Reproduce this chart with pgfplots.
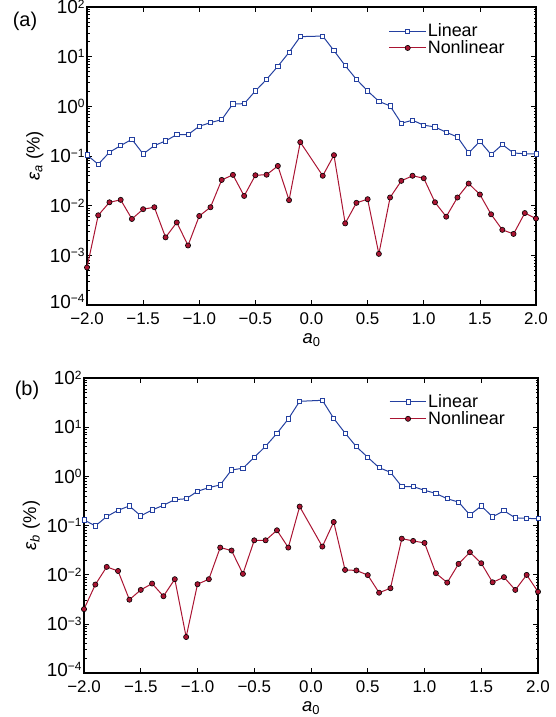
\documentclass[border=0pt]{standalone}
\usepackage{fontspec}
\setmainfont{Liberation Sans}
\usepackage{pgfplots}
\pgfplotsset{compat=1.18}
\definecolor{linblue}{RGB}{36,64,160}
\definecolor{nlred}{RGB}{170,20,50}
\newcommand{\ex}[1]{10\raisebox{5.5bp}{\fontsize{12}{12}\selectfont #1}}
\tikzset{
  lin/.style={linblue, line width=1bp, mark=square*, mark size=2.1bp, mark options={fill=white, draw=linblue, line width=0.8bp}},
  nl/.style={nlred, line width=1bp, mark=*, mark size=2.6bp, mark options={fill=nlred, draw=black, line width=0.6bp}},
}
\pgfplotsset{
  every axis/.append style={
  scale only axis,
  xmin=-2, xmax=2, ymin=1e-4, ymax=1e2,
  xtick={-2,-1.5,-1,-0.5,0,0.5,1,1.5,2},
  xticklabels={−2.0,−1.5,−1.0,−0.5,0.0,0.5,1.0,1.5,2.0},
  ytick={1e-4,1e-3,1e-2,1e-1,1e0,1e1,1e2},
  yticklabels={\raisebox{3.5bp}[\height][\depth]{\ex{−4}},\ex{−3},\ex{−2},\ex{−1},\ex{0},\ex{1},\ex{2}},
  tick align=inside, major tick length=5bp, minor tick length=2.5bp,
  xtick pos=both, ytick pos=both,
  axis line style={line width=1.4bp},
  tick style={black, line width=0.7bp},
  xticklabel style={font=\fontsize{17}{19}\selectfont, yshift=-4bp},
  yticklabel style={font=\fontsize{19}{21}\selectfont, xshift=1bp},
  label style={font=\fontsize{18.5}{20}\selectfont},
  xlabel style={at={(axis description cs:0.5,0)}, anchor=center, yshift=-35bp},
  ylabel style={at={(axis description cs:-0.116,0.5)}, anchor=center},
  legend style={draw=none, fill=none, at={(rel axis cs:0.665,0.955)}, anchor=north west,
    font=\fontsize{18}{20}\selectfont, row sep=0bp, nodes={inner sep=1.2bp}},
  legend cell align=left,
  legend image code/.code={\draw[mark repeat=2,mark phase=2] plot coordinates {(0cm,0cm)(0.65cm,0cm)(1.3cm,0cm)};},
  }
}
\begin{document}
\begin{tikzpicture}[x=1bp,y=1bp]
\path[use as bounding box] (0,0) rectangle (556,-717);
\begin{semilogyaxis}[at={(87bp,-305bp)}, anchor=south west, width=449bp, height=298bp,
  xlabel={\textit{a}\textsubscript{0}},
  ylabel={\textit{ε}\textsubscript{\textit{a}} (\%)}]
\addplot[lin] coordinates {
(-2.0,0.105)(-1.9,0.068)(-1.8,0.119)(-1.7,0.162)(-1.6,0.217)(-1.5,0.110)(-1.4,0.162)(-1.3,0.201)(-1.2,0.27)(-1.1,0.27)
(-1.0,0.397)(-0.9,0.47)(-0.8,0.54)(-0.7,1.12)(-0.6,1.13)(-0.5,2.04)(-0.4,3.5)(-0.3,6.4)(-0.2,12.2)(-0.1,25.3)
(0.1,26.0)(0.2,13.2)(0.3,6.6)(0.4,3.5)(0.5,2.04)(0.6,1.26)(0.7,1.02)(0.8,0.457)(0.9,0.525)(1.0,0.417)
(1.1,0.385)(1.2,0.30)(1.3,0.242)(1.4,0.115)(1.5,0.198)(1.6,0.107)(1.7,0.17)(1.8,0.115)(1.9,0.111)(2.0,0.110)};
\addlegendentry{Linear}
\addplot[nl] coordinates {
(-2.0,0.00057)(-1.9,0.0064)(-1.8,0.0117)(-1.7,0.0131)(-1.6,0.0054)(-1.5,0.0085)(-1.4,0.0093)(-1.3,0.0023)(-1.2,0.0046)(-1.1,0.00158)
(-1.0,0.0062)(-0.9,0.0093)(-0.8,0.033)(-0.7,0.0417)(-0.6,0.0157)(-0.5,0.041)(-0.4,0.042)(-0.3,0.063)(-0.2,0.0129)(-0.1,0.19)
(0.1,0.040)(0.2,0.104)(0.3,0.0044)(0.4,0.0114)(0.5,0.0135)(0.6,0.00107)(0.7,0.0146)(0.8,0.0316)(0.9,0.040)(1.0,0.0357)
(1.1,0.0117)(1.2,0.0060)(1.3,0.0146)(1.4,0.0279)(1.5,0.0168)(1.6,0.0067)(1.7,0.00326)(1.8,0.0027)(1.9,0.0071)(2.0,0.0055)};
\addlegendentry{Nonlinear}
\end{semilogyaxis}
\node[font=\fontsize{20}{22}\selectfont] at (25,-21) {(a)};
\begin{semilogyaxis}[at={(84bp,-673bp)}, anchor=south west, width=454bp, height=295bp,
  xlabel={\textit{a}\textsubscript{0}},
  ylabel={\textit{ε}\textsubscript{\textit{b}} (\%)}]
\addplot[lin] coordinates {
(-2.0,0.130)(-1.9,0.098)(-1.8,0.152)(-1.7,0.204)(-1.6,0.25)(-1.5,0.157)(-1.4,0.207)(-1.3,0.258)(-1.2,0.336)(-1.1,0.35)
(-1.0,0.497)(-0.9,0.59)(-0.8,0.67)(-0.7,1.35)(-0.6,1.46)(-0.5,2.44)(-0.4,4.09)(-0.3,7.5)(-0.2,14.7)(-0.1,33.6)
(0.1,35.2)(0.2,15.1)(0.3,7.6)(0.4,4.0)(0.5,2.44)(0.6,1.50)(0.7,1.21)(0.8,0.62)(0.9,0.62)(1.0,0.52)
(1.1,0.45)(1.2,0.35)(1.3,0.30)(1.4,0.164)(1.5,0.25)(1.6,0.15)(1.7,0.20)(1.8,0.143)(1.9,0.14)(2.0,0.137)};
\addlegendentry{Linear}
\addplot[nl] coordinates {
(-2.0,0.00199)(-1.9,0.0063)(-1.8,0.0144)(-1.7,0.0119)(-1.6,0.0031)(-1.5,0.0049)(-1.4,0.0066)(-1.3,0.00365)(-1.2,0.0081)(-1.1,0.00054)
(-1.0,0.0064)(-0.9,0.0081)(-0.8,0.0356)(-0.7,0.031)(-0.6,0.0104)(-0.5,0.050)(-0.4,0.050)(-0.3,0.080)(-0.2,0.0356)(-0.1,0.243)
(0.1,0.0373)(0.2,0.118)(0.3,0.0125)(0.4,0.0122)(0.5,0.0098)(0.6,0.0043)(0.7,0.0053)(0.8,0.054)(0.9,0.0486)(1.0,0.0443)
(1.1,0.0107)(1.2,0.0069)(1.3,0.0166)(1.4,0.0286)(1.5,0.0171)(1.6,0.0070)(1.7,0.0089)(1.8,0.0049)(1.9,0.0099)(2.0,0.0045)};
\addlegendentry{Nonlinear}
\end{semilogyaxis}
\node[font=\fontsize{20}{22}\selectfont] at (27,-390) {(b)};
\end{tikzpicture}
\end{document}
